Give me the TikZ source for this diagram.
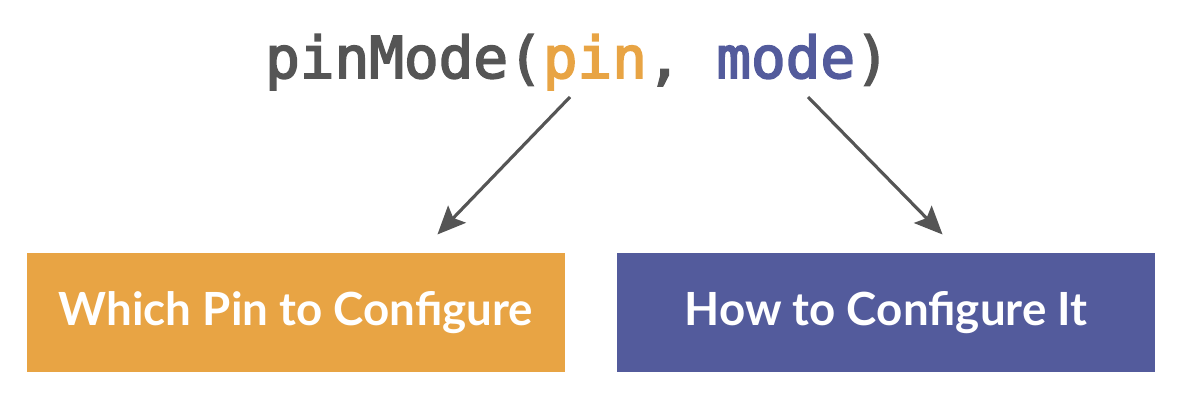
\documentclass[tikz,border=0pt]{standalone}
\usepackage{fontspec}
\setmonofont{DejaVu Sans Mono}[BoldFont=DejaVu Sans Mono,BoldFeatures={FakeBold=3}]
\setsansfont{Lato}
\usepackage{tikz}
\usetikzlibrary{
        arrows,
        arrows.meta,
        positioning
    }
\definecolor{pinorange}{HTML}{E8A444}
\definecolor{modeblue}{HTML}{535B9C}
\definecolor{codegray}{HTML}{555555}
\tikzset{>={Stealth[length=8pt,width=7pt,inset=1.5pt]},shorten >=1pt,auto}
\tikzset{cfgbox/.style={rectangle,minimum width=5.38cm,minimum height=1.19cm,
        text=white,font=\sffamily\bfseries\fontsize{13}{15}\selectfont}}
\tikzset{codetext/.style={inner sep=0pt,font=\ttfamily\bfseries\fontsize{16.4}{20}\selectfont}}
\tikzset{pointer/.style={->,draw=codegray,fill=codegray,line width=0.9pt}}

\begin{document}
\begin{tikzpicture}
                    \useasboundingbox (0,0) rectangle (11.84,4.04);
                    \node[codetext,anchor=base] (call) at (5.775,3.26)
                        {\textcolor{codegray}{pinMode(}\textcolor{pinorange}{pin}\textcolor{codegray}{,} \textcolor{modeblue}{mode}\textcolor{codegray}{)}};
                    \node[cfgbox,fill=pinorange] (which) at (2.96,0.915) {Which Pin to Configure};
                    \node[cfgbox,fill=modeblue] (how) at (8.86,0.915) {How to Configure It};
                    \coordinate (pinfoot) at (5.70,3.07);
                    \coordinate (modefoot) at (8.08,3.07);
                    \coordinate (whichtip) at (4.35,1.67);
                    \coordinate (howtip) at (9.45,1.67);
                    \path
                        (pinfoot)  edge[pointer] (whichtip)
                        (modefoot)  edge[pointer] (howtip)
                    ;
                \end{tikzpicture}
\end{document}
